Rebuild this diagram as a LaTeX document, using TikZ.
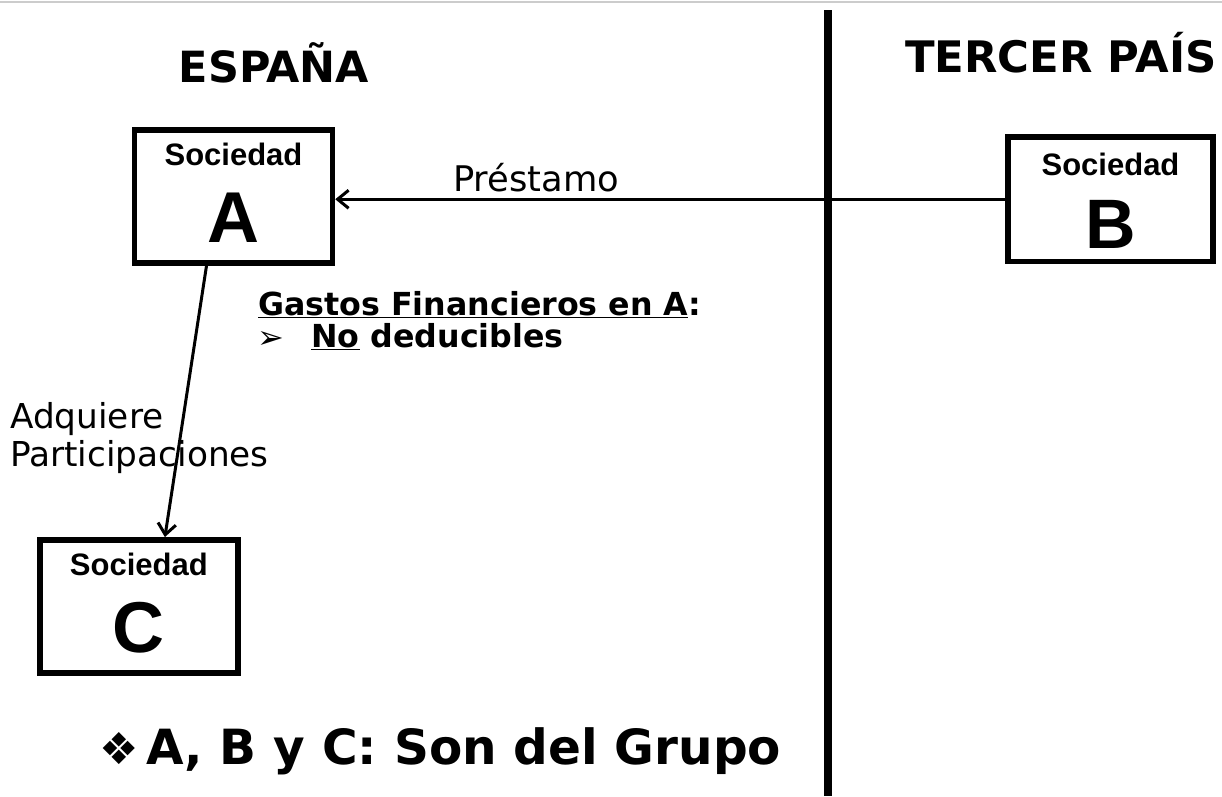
\documentclass[tikz,border=0pt]{standalone}
\usepackage{fontspec}
\setmainfont{DejaVu Sans}
\newfontfamily\arialfont{Liberation Sans}
\usetikzlibrary{arrows.meta}
\newcommand{\fsz}[1]{\fontsize{#1pt}{#1pt}\selectfont}
\begin{document}
\begin{tikzpicture}[x=1pt,y=-1pt,
  box/.style={draw, line width=5.5pt, inner sep=0pt, minimum width=198pt, minimum height=133pt},
  txt/.style={inner sep=0pt, anchor=base},
  soc/.style={txt, font=\arialfont\bfseries\fsz{31}},
  big/.style={txt, font=\arialfont\bfseries\fsz{72}},
  arr/.style={line width=3pt, -{Straight Barb[length=11pt,width=18pt,line width=3pt]}}
]
\useasboundingbox (0,0) rectangle (1222,796);
\fill[white] (0,0) rectangle (1222,796);
% top gray rule
\coordinate (gl) at (0,2);
\coordinate (gr) at (1222,2);
\draw[gray!40, line width=1.5pt] (gl) -- (gr);
% divider
\coordinate (dtop) at (828,10);
\coordinate (dbot) at (828,796);
\draw[line width=8.5pt] (dtop) -- (dbot);
% headings
\node[txt, font=\bfseries\fsz{43}] (esp) at (274,82) {ESPAÑA};
\node[txt, font=\bfseries\fsz{43.4}] (ter) at (1061,72) {TERCER PAÍS};
% boxes
\node[box] (A) at (233.5,196.5) {};
\node[box, minimum width=205pt, minimum height=124.5pt] (B) at (1110.5,199.25) {};
\node[box] (C) at (138.9,606.3) {};
\node[soc] (As) at (233.5,165) {Sociedad};
\node[big] (Al) at (233.5,242) {A};
\node[soc] (Bs) at (1110.5,175) {Sociedad};
\node[big, font=\arialfont\bfseries\fsz{70}] (Bl) at (1110.5,248) {B};
\node[soc] (Cs) at (138.9,575) {Sociedad};
\node[big] (Cl) at (138.9,652) {C};
% connectors
\draw[arr] (B.west) -- (A.east |- B.west);
\draw[arr] ([xshift=-27pt]A.south) -- ([xshift=26pt]C.north);
% labels
\node[txt, anchor=base west, font=\fsz{35.3}] (prest) at (453,191) {Préstamo};
\node[txt, anchor=base west, font=\fsz{34.3}] (adq) at (10,428) {Adquiere};
\node[txt, anchor=base west, font=\fsz{34.3}] (part) at (10,466) {Participaciones};
\node[txt, anchor=base west, font=\bfseries\fsz{31.7}] (gas) at (258,315) {\underline{Gastos Financieros en A}:};
\node[txt, anchor=base west, font=\fsz{32}] (bul) at (257,348) {➢};
\node[txt, anchor=base west, font=\bfseries\fsz{31.7}] (nod) at (311,347) {\underline{No} deducibles};
\node[txt, anchor=base west, font=\fsz{44}] (dia) at (99,764) {❖};
\node[txt, anchor=base west, font=\bfseries\fsz{48.5}] (grp) at (146,764) {A, B y C: Son del Grupo};
\end{tikzpicture}
\end{document}
